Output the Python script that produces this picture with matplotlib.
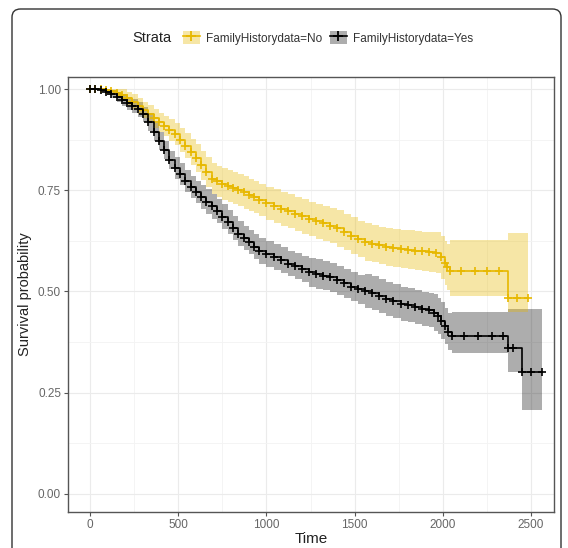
import matplotlib.pyplot as plt
from matplotlib.patches import Patch, FancyBboxPatch
from matplotlib.lines import Line2D
from matplotlib.ticker import MultipleLocator

plt.rcParams['font.family'] = ['Liberation Sans', 'DejaVu Sans']

# Kaplan-Meier estimates, FamilyHistorydata = Yes
t_yes = [0, 30, 60, 90, 120, 150, 180, 210, 240, 270, 300, 330, 360, 390, 420, 450, 480,
         510, 540, 570, 600, 630, 660, 690, 720, 750, 780, 810, 840, 870, 900, 930, 960,
         1000, 1040, 1080, 1120, 1160, 1200, 1240, 1280, 1320, 1360, 1400, 1440, 1480, 1520,
         1560, 1600, 1640, 1680, 1720, 1760, 1800, 1840, 1880, 1920,
         1950, 1970, 1990, 2010, 2030, 2052,
         2120, 2200, 2280, 2340, 2370, 2400, 2449, 2500, 2560]
s_yes = [1.0, 1.0, 0.997, 0.993, 0.988, 0.981, 0.972, 0.965, 0.958, 0.95, 0.938, 0.918,
         0.895, 0.872, 0.85, 0.825, 0.805, 0.79, 0.772, 0.758, 0.745, 0.734, 0.722, 0.71,
         0.698, 0.685, 0.671, 0.657, 0.643, 0.632, 0.622, 0.611, 0.601,
         0.593, 0.585, 0.577, 0.569, 0.562, 0.555, 0.547, 0.543, 0.539, 0.535, 0.528, 0.52,
         0.512, 0.505, 0.5, 0.495, 0.489, 0.482, 0.476, 0.47, 0.466, 0.461, 0.457, 0.454,
         0.448, 0.44, 0.428, 0.415, 0.40, 0.39,
         0.39, 0.39, 0.39, 0.39, 0.36, 0.36, 0.30, 0.30, 0.30]
lo_yes = [1.0, 1.0, 0.992, 0.986, 0.978, 0.969, 0.958, 0.949, 0.94, 0.932, 0.92, 0.896,
          0.873, 0.85, 0.828, 0.803, 0.778, 0.763, 0.745, 0.731, 0.718, 0.704, 0.692, 0.68,
          0.668, 0.655, 0.641, 0.627, 0.613, 0.602, 0.592, 0.579, 0.569,
          0.561, 0.553, 0.545, 0.537, 0.53, 0.523, 0.511, 0.507, 0.503, 0.499, 0.492, 0.484,
          0.476, 0.469, 0.458, 0.453, 0.447, 0.44, 0.434, 0.428, 0.424, 0.419, 0.415, 0.412,
          0.403, 0.395, 0.383, 0.37, 0.355, 0.347,
          0.347, 0.347, 0.347, 0.347, 0.30, 0.30, 0.207, 0.207, 0.207]
hi_yes = [1.0, 1.0, 1.0, 1.0, 0.998, 0.993, 0.986, 0.981, 0.976, 0.968, 0.956, 0.94,
          0.917, 0.894, 0.872, 0.847, 0.832, 0.817, 0.799, 0.785, 0.772, 0.764, 0.752, 0.74,
          0.728, 0.715, 0.701, 0.687, 0.673, 0.662, 0.652, 0.643, 0.633,
          0.625, 0.617, 0.609, 0.601, 0.594, 0.587, 0.583, 0.579, 0.575, 0.571, 0.564, 0.556,
          0.548, 0.541, 0.542, 0.537, 0.531, 0.524, 0.518, 0.512, 0.508, 0.503, 0.499, 0.496,
          0.493, 0.485, 0.473, 0.46, 0.448, 0.45,
          0.45, 0.45, 0.45, 0.45, 0.457, 0.457, 0.457, 0.457, 0.457]

# Kaplan-Meier estimates, FamilyHistorydata = No
t_no = [0, 30, 60, 90, 120, 150, 180, 210, 240, 270, 300, 330, 360, 390, 420, 450, 480,
        510, 540, 570, 600, 630, 660, 690, 720, 750, 780, 810, 840, 870, 900, 930, 960,
        1000, 1040, 1080, 1120, 1160, 1200, 1240, 1280, 1320, 1360, 1400, 1440, 1480, 1520,
        1560, 1600, 1640, 1680, 1720, 1760, 1800, 1840, 1880, 1920, 1960,
        1990, 2010, 2025, 2040,
        2100, 2180, 2250, 2320, 2370, 2420, 2483]
s_no = [1.0, 1.0, 1.0, 0.998, 0.995, 0.991, 0.986, 0.978, 0.969, 0.958, 0.948, 0.938,
        0.928, 0.918, 0.909, 0.9, 0.889, 0.875, 0.86, 0.845, 0.829, 0.812, 0.795, 0.779,
        0.772, 0.766, 0.76, 0.755, 0.75, 0.745, 0.739, 0.733, 0.726,
        0.718, 0.711, 0.704, 0.698, 0.691, 0.686, 0.679, 0.673, 0.668, 0.663, 0.656, 0.647,
        0.638, 0.63, 0.622, 0.618, 0.614, 0.61, 0.607, 0.605, 0.603, 0.601, 0.599, 0.598, 0.596,
        0.585, 0.57, 0.56, 0.55,
        0.55, 0.55, 0.55, 0.55, 0.483, 0.483, 0.483]
lo_no = [1.0, 1.0, 1.0, 0.993, 0.987, 0.979, 0.972, 0.962, 0.951, 0.939, 0.928, 0.916,
         0.905, 0.894, 0.884, 0.873, 0.861, 0.845, 0.829, 0.812, 0.794, 0.776, 0.758, 0.741,
         0.733, 0.727, 0.72, 0.715, 0.71, 0.705, 0.699, 0.693, 0.686,
         0.677, 0.67, 0.663, 0.656, 0.649, 0.643, 0.636, 0.63, 0.624, 0.619, 0.611, 0.602,
         0.593, 0.585, 0.576, 0.572, 0.568, 0.563, 0.56, 0.557, 0.555, 0.552, 0.55, 0.548, 0.545,
         0.532, 0.515, 0.503, 0.49,
         0.49, 0.49, 0.49, 0.49, 0.45, 0.45, 0.45]
hi_no = [1.0, 1.0, 1.0, 1.0, 1.0, 1.0, 1.0, 0.994, 0.987, 0.977, 0.968, 0.96,
         0.951, 0.942, 0.934, 0.927, 0.917, 0.905, 0.891, 0.878, 0.864, 0.848, 0.832, 0.817,
         0.811, 0.805, 0.8, 0.795, 0.79, 0.785, 0.779, 0.773, 0.766,
         0.759, 0.752, 0.745, 0.74, 0.733, 0.729, 0.722, 0.716, 0.712, 0.707, 0.701, 0.692,
         0.683, 0.675, 0.668, 0.664, 0.66, 0.657, 0.654, 0.653, 0.651, 0.65, 0.648, 0.648, 0.647,
         0.638, 0.625, 0.617, 0.626,
         0.626, 0.626, 0.626, 0.626, 0.645, 0.645, 0.645]

col_no = '#E7B800'
col_yes = '#000000'

fig = plt.figure(figsize=(5.68, 5.48), dpi=100)
ax = fig.add_axes([68 / 568, 36 / 548, 486 / 568, 435 / 548])

# confidence ribbons first, then the step curves with censor marks
ax.fill_between(t_yes, lo_yes, hi_yes, step='post', color=col_yes, alpha=0.32, lw=0)
ax.fill_between(t_no, lo_no, hi_no, step='post', color=col_no, alpha=0.35, lw=0)
ax.plot(t_no, s_no, drawstyle='steps-post', color=col_no, lw=1.2,
        marker='+', ms=5.5, mew=1.2)
ax.plot(t_yes, s_yes, drawstyle='steps-post', color=col_yes, lw=1.2,
        marker='+', ms=5.5, mew=1.2)

ax.set_xlim(-125, 2630)
ax.set_ylim(-0.045, 1.03)
ax.set_xticks([0, 500, 1000, 1500, 2000, 2500])
ax.set_yticks([0, 0.25, 0.5, 0.75, 1.0])
ax.set_yticklabels(['0.00', '0.25', '0.50', '0.75', '1.00'])
ax.xaxis.set_minor_locator(MultipleLocator(250))
ax.yaxis.set_minor_locator(MultipleLocator(0.125))
ax.grid(which='major', color='#EBEBEB', lw=0.8)
ax.grid(which='minor', color='#F3F3F3', lw=0.6)
ax.set_axisbelow(True)
ax.tick_params(which='major', length=3, width=0.8, color='#555555',
               labelcolor='#666666', labelsize=8.5, pad=2)
ax.tick_params(which='minor', length=0)
for sp in ax.spines.values():
    sp.set_color('#555555')
    sp.set_linewidth(1.0)

ax.set_xlabel('Time', fontsize=11, color='#222222', labelpad=1)
ax.set_ylabel('Survival probability', fontsize=10.5, color='#222222', labelpad=4)

# legend across the top
h_no = (Patch(facecolor=col_no, alpha=0.35, lw=0),
        Line2D([], [], color=col_no, lw=1.2, marker='+', ms=7, mew=1.3))
h_yes = (Patch(facecolor=col_yes, alpha=0.32, lw=0),
         Line2D([], [], color=col_yes, lw=1.2, marker='+', ms=7, mew=1.3))
fig.text(132 / 568, 1 - 38 / 548, 'Strata', fontsize=10.5, color='#222222',
         ha='left', va='center')
fig.legend([h_no, h_yes], ['FamilyHistorydata=No', 'FamilyHistorydata=Yes'],
           loc='center left', bbox_to_anchor=(172 / 568, 1 - 38 / 548), ncol=2,
           frameon=False, fontsize=8.5, handlelength=1.5, handleheight=1.2,
           handletextpad=0.5, columnspacing=0.6, labelcolor='#333333')

# rounded outer frame
fig.patches.append(FancyBboxPatch((12 / 568, -0.05), 549 / 568, 1 - 9 / 548 + 0.05,
                                  boxstyle='round,pad=0,rounding_size=0.015',
                                  transform=fig.transFigure, fill=False,
                                  ec='#333333', lw=1.0))

fig.savefig('out.png', dpi=100)
